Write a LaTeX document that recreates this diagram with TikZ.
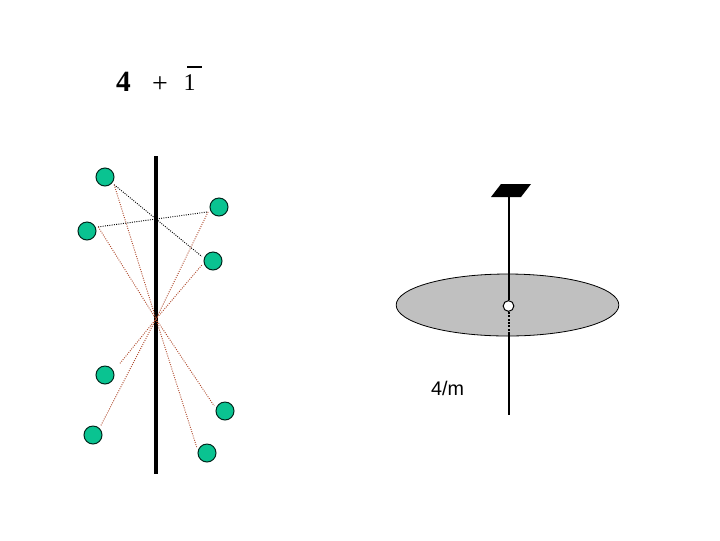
\documentclass[tikz,border=0pt]{standalone}
\usepackage{fontspec}
\usetikzlibrary{shapes.geometric}
\setmainfont{Liberation Serif}
\newfontfamily\labelfont{Liberation Sans}
\definecolor{ballgreen}{RGB}{10,195,145}
\definecolor{linkred}{RGB}{175,75,45}
\definecolor{discgray}{RGB}{192,192,192}
\tikzset{
  ball/.style={circle,draw=black!80!ballgreen,fill=ballgreen,line width=0.75pt,minimum size=13.5pt,inner sep=0pt,outer sep=2.2pt},
  linkblack/.style={black,line width=0.7pt,densely dotted},
  linkorange/.style={linkred,line width=0.7pt,densely dotted},
}
\begin{document}
\begin{tikzpicture}[x=0.75pt,y=-0.75pt]
  \useasboundingbox (0,0) rectangle (720,540);
  % Title
  \node[font=\bfseries\fontsize{22}{22}\selectfont,inner sep=0pt] (four) at (123.5,82) {4};
  \node[font=\fontsize{21}{21}\selectfont,inner sep=0pt] (plus) at (160,84.5) {+};
  \node[font=\fontsize{18}{18}\selectfont,inner sep=0pt] (one) at (189.5,83) {1};
  \coordinate (barl) at (187,67);
  \coordinate (barr) at (202,67);
  \draw[line width=1pt] (barl) -- (barr);
  % Axis with the eight balls
  \coordinate (axtop) at (156,156);
  \coordinate (axbot) at (156,474);
  \coordinate (high) at (156,219);
  \coordinate (low) at (156,319);
  \draw[line width=3pt] (axtop) -- (axbot);
  \foreach \name/\x/\y in {b1/105/177,b2/87/231,b3/219/207,b4/213/261,b5/105/375,b6/93/435,b7/225/411,b8/207/453} {
    \node[ball] (\name) at (\x,\y) {};
  }
  % Links through the axis
  \draw[linkblack] (b1.-40) -- (high) -- (b4.158);
  \draw[linkblack] (b2.20) -- (high) -- (b3.204);
  \draw[linkorange] (b1.-40) -- (low) -- (b8.150);
  \draw[linkorange] (b2.20) -- (low) -- (b7.155);
  \draw[linkorange] (b3.204) -- (low) -- (b6.50);
  \draw[linkorange,shorten >=5pt] (b4.200) -- (low) -- (b5.30);
  % Disc with the 4/m axis
  \node[ellipse,draw,fill=discgray,line width=0.6pt,minimum width=167pt,minimum height=46.5pt,inner sep=0pt] (disc) at (507.5,305) {};
  \coordinate (axtwotop) at (508.5,195);
  \coordinate (axtwomid) at (508.5,333);
  \coordinate (axtwobot) at (508.5,415);
  \node[circle,draw,fill=white,line width=0.75pt,minimum size=8pt,inner sep=0pt] (hole) at (508.5,306) {};
  \draw[line width=1.5pt] (axtwotop) -- (hole);
  \draw[line width=1.5pt,densely dotted] (hole) -- (axtwomid);
  \draw[line width=1.5pt] (axtwomid) -- (axtwobot);
  \fill (491,197) -- (501,184) -- (531,184) -- (521,197) -- cycle;
  \node[font=\labelfont\fontsize{14.8}{14.8}\selectfont,inner sep=0pt] (label) at (447.5,388) {4/m};
\end{tikzpicture}
\end{document}
